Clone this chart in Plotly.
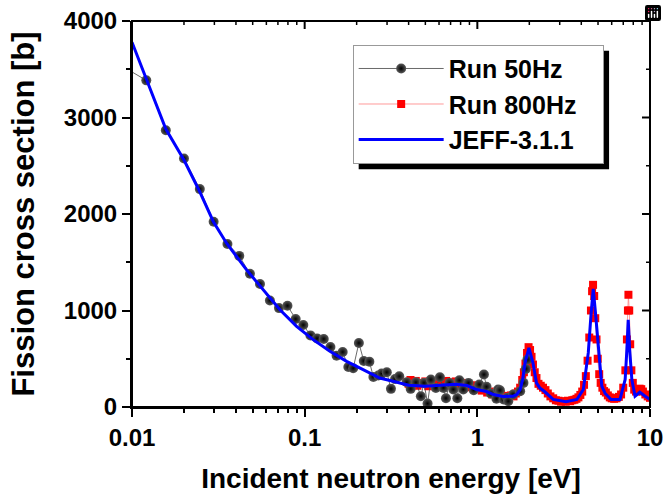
import math
import plotly.graph_objects as go

# ---------------- data ----------------
run50_E = [0.009, 0.0121, 0.0157, 0.0200, 0.0247, 0.0297, 0.0357, 0.0418, 0.0482, 0.0551,
           0.0629, 0.0710, 0.0795, 0.0887, 0.0982, 0.108, 0.118, 0.129, 0.141, 0.153,
           0.166, 0.179, 0.191, 0.206, 0.220, 0.237, 0.250, 0.267, 0.279, 0.299,
           0.316, 0.334, 0.353, 0.390, 0.411, 0.441, 0.471, 0.491, 0.515, 0.538,
           0.575, 0.607, 0.637, 0.658, 0.690, 0.726, 0.766, 0.787, 0.829, 0.889,
           0.953, 1.026, 1.092, 1.13, 1.194, 1.29, 1.32, 1.352, 1.42, 1.49,
           1.51, 1.61, 1.77, 1.85, 1.91, 1.95]
run50_S = [3520, 3385, 2868, 2576, 2258, 1920, 1690, 1566, 1380, 1274,
           1104, 1025, 1049, 912, 850, 742, 711, 705, 622, 532,
           570, 415, 401, 663, 477, 470, 312, 326, 346, 360,
           188, 291, 318, 256, 188, 256, 112, 250, 36, 284,
           198, 308, 198, 91, 250, 181, 91, 277, 181, 250,
           174, 233, 336, 209, 140, 85, 181, 174, 78, 95,
           60, 129, 163, 250, 395, 491]

run800_E = [0.39, 0.40, 0.41, 0.42, 0.43, 0.44, 0.45, 0.46, 0.48, 0.50,
            0.52, 0.54, 0.56, 0.58, 0.60, 0.62, 0.64, 0.66, 0.68, 0.70,
            0.72, 0.75, 0.78, 0.81, 0.84, 0.87, 0.90, 0.94, 0.98, 1.02,
            1.06, 1.10, 1.14, 1.18, 1.22, 1.27, 1.32, 1.37, 1.42, 1.47,
            1.52, 1.57, 1.62, 1.67, 1.72, 1.77, 1.82, 1.86, 1.90, 1.94,
            1.98, 2.02, 2.06, 2.10, 2.15, 2.20, 2.26, 2.33, 2.40, 2.48,
            2.56, 2.65, 2.75, 2.85, 2.95, 3.05, 3.15, 3.25, 3.35, 3.45,
            3.55, 3.65, 3.75, 3.85, 3.95, 4.05, 4.15, 4.25, 4.35, 4.45,
            4.55, 4.62, 4.68, 4.75, 4.82, 4.90, 4.98, 5.08, 5.18, 5.30,
            5.42, 5.55, 5.70, 5.85, 6.00, 6.20, 6.40, 6.60, 6.80, 7.00,
            7.20, 7.35, 7.45, 7.50, 7.58, 7.68, 7.80, 7.95, 8.10, 8.30,
            8.50, 8.70, 8.90, 9.10, 9.40, 9.70, 10.0]
run800_S = [260, 240, 280, 230, 255, 270, 220, 250, 240, 265,
            215, 245, 230, 260, 215, 250, 235, 270, 225, 255,
            240, 265, 230, 250, 215, 240, 205, 225, 190, 200,
            170, 180, 150, 160, 130, 140, 115, 125, 100, 115,
            95, 120, 110, 140, 160, 200, 280, 360, 450, 560,
            620, 590, 520, 440, 360, 300, 240, 220, 200, 175,
            140, 110, 90, 70, 65, 55, 60, 55, 65, 60,
            70, 75, 85, 100, 125, 160, 230, 320, 480, 720,
            1000, 1200, 1266, 1150, 920, 700, 500, 340, 250, 200,
            165, 150, 120, 100, 90, 85, 90, 105, 130, 200,
            380, 700, 1000, 1163, 1000, 650, 380, 250, 180, 160,
            170, 190, 185, 160, 130, 110, 95]

jeff_E = [0.01, 0.0121, 0.0157, 0.020, 0.0247, 0.0296, 0.0353, 0.0461, 0.0576, 0.0719,
          0.0898, 0.112, 0.140, 0.175, 0.218, 0.272, 0.325, 0.40, 0.50, 0.63,
          0.75, 0.87, 0.99, 1.13, 1.24, 1.41, 1.61, 1.69, 1.77, 1.83,
          1.89, 1.99, 2.10, 2.20, 2.30, 2.44, 2.75, 3.26, 3.77, 4.11,
          4.39, 4.55, 4.69, 4.82, 4.97, 5.26, 5.50, 5.95, 6.70, 7.18,
          7.35, 7.48, 7.62, 7.85, 8.19, 8.73, 9.37, 10.0]
jeff_S = [3780, 3400, 2880, 2560, 2230, 1920, 1697, 1421, 1214, 1008,
          835, 698, 577, 473, 388, 300, 267, 225, 215, 225,
          235, 222, 181, 160, 129, 110, 112, 129, 181, 284,
          457, 612, 457, 250, 198, 163, 78, 54, 78, 181,
          560, 950, 1225, 1000, 732, 215, 140, 78, 78, 284,
          600, 904, 600, 284, 112, 153, 112, 78]

x_major = [0.01, 0.1, 1, 10]
x_labels = ["0.01", "0.1", "1", "10"]
x_minor = [m * d for d in (0.01, 0.1, 1) for m in range(2, 10)]
y_major = [0, 1000, 2000, 3000, 4000]
y_minor = [500, 1500, 2500, 3500]
X_RANGE = [-2, 1]
Y_RANGE = [0, 4000]

FONT = "Liberation Sans, Arial, sans-serif"
PAD = "\u00a0\u00a0\u00a0"

fig = go.Figure()

fig.add_trace(go.Scatter(
    x=run800_E, y=run800_S, mode="lines+markers", name="Run 800Hz" + PAD,
    line=dict(color="#ff8080", width=0.8),
    marker=dict(symbol="square", size=8, color="#ff0000"),
    legendrank=2))

fig.add_trace(go.Scatter(
    x=run50_E, y=run50_S, mode="lines+markers", name="Run 50Hz",
    line=dict(color="#444444", width=0.8),
    marker=dict(symbol="circle", size=10, color="#5a5a5a",
                gradient=dict(type="radial", color="#000000"),
                line=dict(width=0)),
    legendrank=1))

fig.add_trace(go.Scatter(
    x=jeff_E, y=jeff_S, mode="lines", name="JEFF-3.1.1",
    line=dict(color="#0000ff", width=3),
    legendrank=3))


# ---- frame, inward mirror ticks (top / right) and legend shadow ----
def xfrac(v):
    return (math.log10(v) - X_RANGE[0]) / (X_RANGE[1] - X_RANGE[0])


def yfrac(v):
    return (v - Y_RANGE[0]) / (Y_RANGE[1] - Y_RANGE[0])


shapes = [dict(type="rect", xref="paper", yref="paper",
               x0=0.4376, x1=0.921, y0=0.616, y1=0.923,
               fillcolor="black", line=dict(width=0), layer="above")]

for vals, ln, w in ((x_major, 8, 2), (x_minor, 4, 1.5)):
    for v in vals:
        f = xfrac(v)
        if 0 < f < 1:
            shapes.append(dict(type="line", xref="paper", yref="paper",
                               ysizemode="pixel", yanchor=1, x0=f, x1=f, y0=0, y1=-ln,
                               line=dict(color="black", width=w), layer="above"))
for vals, ln, w in ((y_major, 8, 2), (y_minor, 4, 1.5)):
    for v in vals:
        f = yfrac(v)
        if 0 < f < 1:
            shapes.append(dict(type="line", xref="paper", yref="paper",
                               xsizemode="pixel", xanchor=1, y0=f, y1=f, x0=0, x1=-ln,
                               line=dict(color="black", width=w), layer="above"))

shapes.append(dict(type="rect", xref="paper", yref="paper", x0=0, x1=1, y0=0, y1=1,
                   line=dict(color="black", width=2), fillcolor="rgba(0,0,0,0)",
                   layer="above"))

axis_common = dict(showgrid=False, zeroline=False, showline=True, automargin=False,
                   linecolor="black", linewidth=2, tickcolor="black", tickwidth=2)

fig.update_layout(
    width=667, height=495,
    margin=dict(l=132, r=17, t=21, b=88),
    paper_bgcolor="white", plot_bgcolor="white",
    font=dict(family=FONT, color="black", size=24, weight="bold"),
    modebar=dict(bgcolor="rgba(0,0,0,0)", color="rgba(0,0,0,0)",
                 activecolor="rgba(0,0,0,0)"),
    xaxis=dict(type="log", range=X_RANGE, tickmode="array",
               tickvals=x_major, ticktext=x_labels, ticks="outside", ticklen=8,
               tickfont=dict(size=24, weight="bold"), ticklabeloverflow="allow",
               minor=dict(tickmode="array", tickvals=x_minor, ticks="outside",
                          ticklen=4, tickwidth=1.5, tickcolor="black"),
               title=dict(text="Incident neutron energy [eV]",
                          font=dict(size=28, weight="bold"), standoff=19),
               **axis_common),
    yaxis=dict(range=Y_RANGE, tickmode="array", tickvals=y_major,
               ticks="outside", ticklen=8,
               tickfont=dict(size=24, weight="bold"), ticklabeloverflow="allow",
               minor=dict(tickmode="array", tickvals=y_minor, ticks="outside",
                          ticklen=4, tickwidth=1.5, tickcolor="black"),
               title=dict(text="Fission cross section [b]",
                          font=dict(size=31, weight="bold"), standoff=20),
               **axis_common),
    legend=dict(x=0.426, y=0.9385, xanchor="left", yanchor="top",
                bgcolor="white", bordercolor="#999999", borderwidth=1,
                font=dict(size=25, weight="bold"), itemwidth=85,
                traceorder="normal"),
    showlegend=True,
    shapes=shapes,
)

fig.write_html("out.html",
               post_script="document.body.style.margin='0';document.body.style.overflow='hidden';")
